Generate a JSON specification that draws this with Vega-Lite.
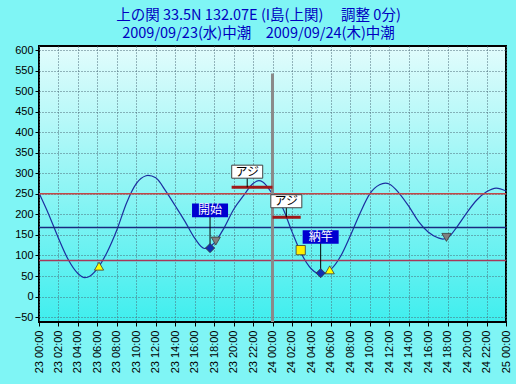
{
  "$schema": "https://vega.github.io/schema/vega-lite/v6.json",
  "width": 467,
  "height": 276,
  "autosize": {"type": "none"},
  "padding": {"left": 39, "top": 46, "right": 10, "bottom": 62},
  "background": "#7ff5f5",
  "title": {
    "text": ["上の関 33.5N 132.07E (I島(上関)　 調整 0分)", "　　 2009/09/23(水)中潮　2009/09/24(木)中潮"],
    "color": "#0000c0",
    "font": "Noto Sans CJK JP",
    "fontSize": 14.5,
    "fontWeight": "normal",
    "lineHeight": 18,
    "anchor": "middle",
    "frame": "group",
    "dx": -14,
    "offset": 3
  },
  "config": {
    "view": {
      "stroke": "#000000",
      "strokeWidth": 2,
      "fill": {"gradient": "linear", "x1": 0, "y1": 0, "x2": 0, "y2": 1, "stops": [{"offset": 0, "color": "#e2fcfc"}, {"offset": 1, "color": "#40eeee"}]}
    }
  },
  "datasets": {
    "tide": [
      {"h": 0, "v": 252}, {"h": 1, "v": 200}, {"h": 2, "v": 142}, {"h": 3, "v": 90}, {"h": 4, "v": 56},
      {"h": 4.7, "v": 46}, {"h": 5, "v": 47}, {"h": 6, "v": 68}, {"h": 7, "v": 108}, {"h": 8, "v": 162},
      {"h": 9, "v": 228}, {"h": 10, "v": 275}, {"h": 11, "v": 294}, {"h": 11.2, "v": 295}, {"h": 12, "v": 289},
      {"h": 13, "v": 258}, {"h": 14, "v": 221}, {"h": 15, "v": 183}, {"h": 16, "v": 142}, {"h": 17, "v": 117},
      {"h": 18, "v": 130}, {"h": 19, "v": 166}, {"h": 20, "v": 212}, {"h": 21, "v": 245}, {"h": 22, "v": 275},
      {"h": 22.6, "v": 282}, {"h": 23, "v": 279}, {"h": 24, "v": 250}, {"h": 25, "v": 218}, {"h": 26, "v": 158},
      {"h": 27, "v": 103}, {"h": 28, "v": 67}, {"h": 28.9, "v": 55}, {"h": 29, "v": 55}, {"h": 30, "v": 66},
      {"h": 31, "v": 98}, {"h": 32, "v": 148}, {"h": 33, "v": 203}, {"h": 34, "v": 250}, {"h": 35, "v": 272},
      {"h": 35.6, "v": 276}, {"h": 36, "v": 274}, {"h": 37, "v": 252}, {"h": 38, "v": 220}, {"h": 39, "v": 183},
      {"h": 40, "v": 157}, {"h": 41, "v": 143}, {"h": 41.5, "v": 140}, {"h": 42, "v": 143}, {"h": 43, "v": 171},
      {"h": 44, "v": 205}, {"h": 45, "v": 235}, {"h": 46, "v": 255}, {"h": 47, "v": 264}, {"h": 48, "v": 257}
    ],
    "levels": [
      {"name": "上", "v": 250},
      {"name": "中", "v": 168},
      {"name": "下", "v": 88}
    ],
    "gate": [
      {"h": 24, "v": 543, "v2": -62}
    ],
    "catch": [
      {"h": 19.8, "h2": 24, "v": 266},
      {"h": 24, "h2": 26.9, "v": 193}
    ],
    "notes": [
      {"h": 21.4, "v": 304, "v2": 266, "label": "アジ", "kind": "fish"},
      {"h": 25.42, "v": 232, "v2": 193, "label": "アジ", "kind": "fish"},
      {"h": 17.58, "v": 210, "v2": 118, "label": "開始", "kind": "event"},
      {"h": 28.95, "v": 145, "v2": 57, "label": "納竿", "kind": "event"}
    ],
    "events": [
      {"h": 6.17, "v": 74, "kind": "日の出"},
      {"h": 18.17, "v": 135, "kind": "日の入"},
      {"h": 17.58, "v": 118, "kind": "釣行"},
      {"h": 26.9, "v": 113, "kind": "月"},
      {"h": 28.95, "v": 57, "kind": "釣行"},
      {"h": 29.88, "v": 65, "kind": "日の出"},
      {"h": 41.88, "v": 144, "kind": "日の入"}
    ]
  },
  "layer": [
    {
      "data": {"name": "tide"},
      "mark": {"type": "line", "interpolate": "monotone", "color": "#1c2fa0", "strokeWidth": 1.2},
      "encoding": {
        "x": {
          "field": "h", "type": "quantitative",
          "scale": {"domain": [0, 48], "nice": false, "zero": false},
          "axis": {
            "title": null,
            "values": [0, 2, 4, 6, 8, 10, 12, 14, 16, 18, 20, 22, 24, 26, 28, 30, 32, 34, 36, 38, 40, 42, 44, 46, 48],
            "tickCount": 60,
            "labelExpr": "(23 + floor(datum.value / 24)) + ' ' + ((datum.value % 24) < 10 ? '0' : '') + (datum.value % 24) + ':00'",
            "labelAngle": 270, "labelFont": "Liberation Sans", "labelFontSize": 11, "labelColor": "#000000",
            "labelPadding": 4, "tickColor": "#000000", "tickSize": 4, "grid": true, "gridColor": "#4a6a78",
            "gridDash": [1, 2], "gridOpacity": 1, "domain": false, "labelOverlap": false, "labelFlush": false
          }
        },
        "y": {
          "field": "v", "type": "quantitative",
          "scale": {"domain": [-62, 610], "nice": false, "zero": false},
          "axis": {
            "title": null, "values": [-50, 0, 50, 100, 150, 200, 250, 300, 350, 400, 450, 500, 550, 600],
            "tickCount": 40,
            "labelFont": "Liberation Sans", "labelFontSize": 11, "labelColor": "#000000", "labelPadding": 2,
            "tickColor": "#000000", "tickSize": 4, "grid": true, "gridColor": "#4a6a78", "gridDash": [1, 2],
            "gridOpacity": 1, "domain": false, "labelOverlap": false
          }
        }
      }
    },
    {
      "data": {"name": "levels"},
      "mark": {"type": "rule", "strokeWidth": 1.5},
      "encoding": {
        "y": {"field": "v", "type": "quantitative"},
        "color": {"field": "name", "type": "nominal", "scale": {"domain": ["上", "中", "下"], "range": ["#c04848", "#1a2a80", "#a8385a"]}, "legend": null}
      }
    },
    {
      "data": {"name": "gate"},
      "mark": {"type": "rule", "strokeWidth": 3, "color": "#8a8a8a"},
      "encoding": {
        "x": {"field": "h", "type": "quantitative"},
        "y": {"field": "v", "type": "quantitative"},
        "y2": {"field": "v2"}
      }
    },
    {
      "data": {"name": "catch"},
      "mark": {"type": "rule", "strokeWidth": 3, "color": "#a01818"},
      "encoding": {
        "x": {"field": "h", "type": "quantitative"},
        "x2": {"field": "h2"},
        "y": {"field": "v", "type": "quantitative"}
      }
    },
    {
      "data": {"name": "notes"},
      "mark": {"type": "rule", "strokeWidth": 1, "color": "#000000"},
      "encoding": {
        "x": {"field": "h", "type": "quantitative"},
        "y": {"field": "v", "type": "quantitative"},
        "y2": {"field": "v2"}
      }
    },
    {
      "data": {"name": "notes"},
      "transform": [{"filter": "datum.kind === 'fish'"}],
      "mark": {"type": "point", "shape": "M-1,-0.42H1V0.42H-1Z", "size": 961, "filled": true, "fill": "#ffffff", "stroke": "#404040", "strokeWidth": 1, "opacity": 1},
      "encoding": {
        "x": {"field": "h", "type": "quantitative"},
        "y": {"field": "v", "type": "quantitative"}
      }
    },
    {
      "data": {"name": "notes"},
      "transform": [{"filter": "datum.kind === 'event'"}],
      "mark": {"type": "point", "shape": "M-1,-0.38H1V0.38H-1Z", "size": 1296, "filled": true, "fill": "#0000d0", "strokeWidth": 0, "opacity": 1},
      "encoding": {
        "x": {"field": "h", "type": "quantitative"},
        "y": {"field": "v", "type": "quantitative"}
      }
    },
    {
      "data": {"name": "notes"},
      "transform": [{"filter": "datum.kind === 'fish'"}],
      "mark": {"type": "text", "font": "Noto Sans CJK JP", "fontSize": 12, "color": "#000000", "baseline": "middle", "align": "center"},
      "encoding": {
        "x": {"field": "h", "type": "quantitative"},
        "y": {"field": "v", "type": "quantitative"},
        "text": {"field": "label"}
      }
    },
    {
      "data": {"name": "notes"},
      "transform": [{"filter": "datum.kind === 'event'"}],
      "mark": {"type": "text", "font": "Noto Sans CJK JP", "fontSize": 12, "color": "#ffffff", "baseline": "middle", "align": "center"},
      "encoding": {
        "x": {"field": "h", "type": "quantitative"},
        "y": {"field": "v", "type": "quantitative"},
        "text": {"field": "label"}
      }
    },
    {
      "data": {"name": "events"},
      "mark": {"type": "point", "filled": true, "opacity": 1, "stroke": "#3a3a3a", "strokeWidth": 0.8},
      "encoding": {
        "x": {"field": "h", "type": "quantitative"},
        "y": {"field": "v", "type": "quantitative"},
        "shape": {"field": "kind", "type": "nominal", "scale": {"domain": ["日の出", "日の入", "釣行", "月"], "range": ["triangle-up", "triangle-down", "diamond", "square"]}, "legend": null},
        "fill": {"field": "kind", "type": "nominal", "scale": {"domain": ["日の出", "日の入", "釣行", "月"], "range": ["#ffff00", "#808080", "#1030b0", "#ffee00"]}, "legend": null},
        "size": {"value": 85}
      }
    }
  ]
}
